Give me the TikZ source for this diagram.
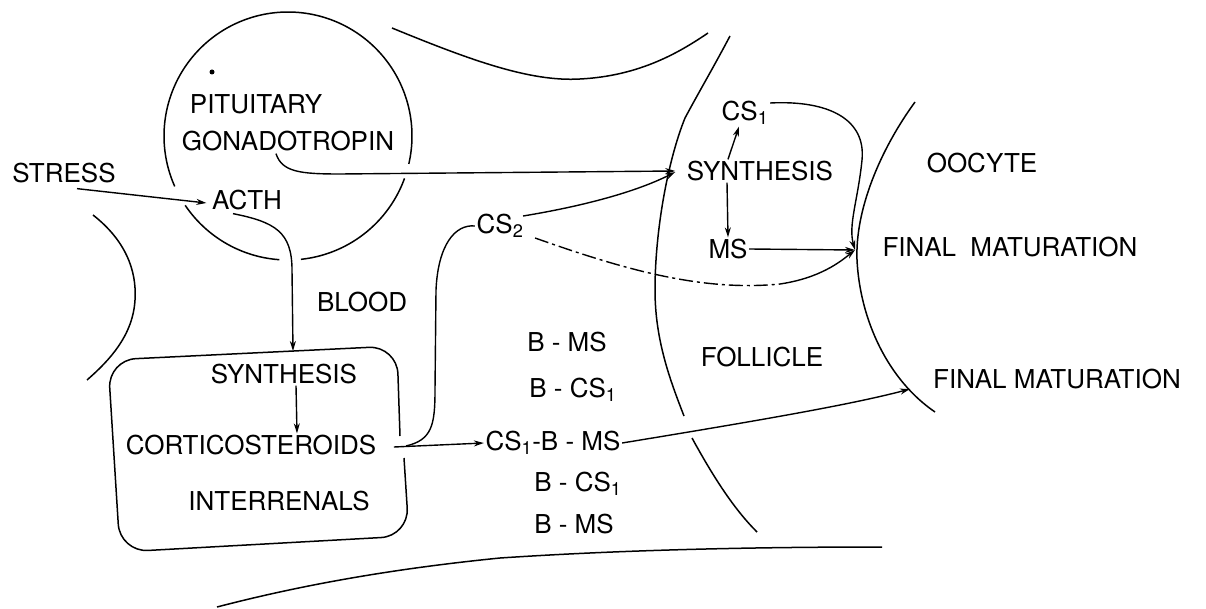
\documentclass[tikz,border=0pt]{standalone}
\usepackage{fontspec}
\setmainfont{TeX Gyre Heros}
\usetikzlibrary{arrows.meta,calc}
\begin{document}
\begin{tikzpicture}[x=1pt,y=-1pt,
  line width=1.4pt,
  lbl/.style={inner sep=1pt,font=\fontsize{26}{30}\selectfont},
  arr/.style={-{Stealth[length=10pt,width=6pt]}},
  bound/.style={line width=1.5pt}]
\useasboundingbox (0,0) rectangle (1206,609);

% ---- texts ----
\node[lbl] (pit) at (256,104) {PITUITARY};
\node[lbl] (gonad) at (288,141) {GONADOTROPIN};
\node[lbl] (stress) at (64,173) {STRESS};
\node[lbl] (acth) at (247,200) {ACTH};
\node[lbl] (blood) at (362,302) {BLOOD};
\node[lbl] (synI) at (284,374) {SYNTHESIS};
\node[lbl] (cort) at (251,445) {CORTICOSTEROIDS};
\node[lbl] (inter) at (279,501) {INTERRENALS};
\node[lbl] (cs2) at (500,226) {CS\textsubscript{2}};
\node[lbl] (csF) at (745,113) {CS\textsubscript{1}};
\node[lbl] (synF) at (760,171) {SYNTHESIS};
\node[lbl] (msF) at (728,249) {MS};
\node[lbl] (oocyte) at (982,163) {OOCYTE};
\node[lbl] (fm1) at (1010,247) {FINAL\ \ MATURATION};
\node[lbl] (fm2) at (1057,379) {FINAL MATURATION};
\node[lbl] (foll) at (762,357) {FOLLICLE};
\node[lbl] (bms1) at (567,342) {B - MS};
\node[lbl] (bcs1) at (573,390) {B - CS\textsubscript{1}};
\node[lbl] (cbm) at (553,443) {CS\textsubscript{1}-B - MS};
\node[lbl] (bcs2) at (578,484) {B - CS\textsubscript{1}};
\node[lbl] (bms2) at (574,524) {B - MS};

% ---- dot ----
\fill (212,72) circle (2.5pt);

% ---- pituitary circle (with gaps) ----
\draw[bound] plot[smooth,domain=-13:204,samples=80] ({288+124*cos(\x)},{136-124*sin(\x)});
\draw[bound] plot[smooth,domain=214:266,samples=30] ({288+124*cos(\x)},{136-124*sin(\x)});
\draw[bound] plot[smooth,domain=276:340,samples=30] ({288+124*cos(\x)},{136-124*sin(\x)});

% ---- boundaries ----
\draw[bound] (392,28) .. controls (470,60) and (530,82) .. (580,79) .. controls (640,76) and (680,52) .. (708,33);
\draw[bound] (730,36) .. controls (712,70) and (700,90) .. (685,118) .. controls (668,160) and (655,230) .. (655,290) .. controls (655,340) and (670,380) .. (684,416);
\draw[bound] (692,438) .. controls (715,480) and (735,510) .. (757,532);
\draw[bound] (915,102) .. controls (880,150) and (855,210) .. (857,260) .. controls (860,320) and (888,380) .. (935,412);
\draw[bound] (93,215) .. controls (125,240) and (137,270) .. (135,300) .. controls (133,335) and (110,360) .. (87,380);
\draw[bound] (217,607) .. controls (290,588) and (380,570) .. (500,558) .. controls (620,550) and (750,547) .. (882,547);
\draw[bound,rounded corners=28pt] (400,436) -- (397,346) -- (108,360) -- (120,552) -- (409,536) -- (404,458);

% ---- coordinates ----
\coordinate (boxtop) at (293,351);
\coordinate (fmj) at (855,250);
\coordinate (fm2j) at (910,389);
\coordinate (cs2mid) at (780,284);

% ---- connectors ----
\draw[arr] ($(stress.south)+(13,4)$) -- ($(acth.west)+(-4,3)$);
\draw[arr] ($(gonad.south)+(-12,1)$) .. controls (282,172) and (300,174) .. (340,174) -- ($(synF.west)+(-10,0)$);
\draw[arr] ($(acth.south)+(-14,2)$) .. controls (275,222) and (292,232) .. (292,270) -- (boxtop);
\draw[arr] ($(synI.south)+(12,0)$) -- ($(cort.north)+(46,0)$);
\draw[arr] ($(cort.east)+(16,2)$) -- (cbm.west);
\draw ($(cort.east)+(28,1)$) .. controls (432,440) and (435,425) .. (435,390) -- (436,290) .. controls (438,245) and (455,224) .. (cs2.west);
\draw[arr] ($(cs2.east)+(-2,-10)$) .. controls (590,205) and (640,190) .. ($(synF.west)+(-10,1)$);
\draw[dash pattern=on 14pt off 4pt on 3pt off 4pt] ($(cs2.east)+(10,12)$) .. controls (620,268) and (700,292) .. (cs2mid);
\draw[arr] (cs2mid) .. controls (820,278) and (840,262) .. (fmj);
\draw[arr] (msF.east) -- (fmj);
\draw[arr] ($(synF.north)+(-32,0)$) -- ($(csF.south)+(-6,0)$);
\draw[arr] ($(synF.south)+(-33,0)$) -- (msF.north);
\draw[arr] ($(csF.east)+(0,-10)$) .. controls (830,100) and (866,120) .. (862,160) .. controls (858,200) and (848,225) .. (fmj);
\draw[arr] (cbm.east) .. controls (750,422) and (850,405) .. (fm2j);
\end{tikzpicture}
\end{document}
